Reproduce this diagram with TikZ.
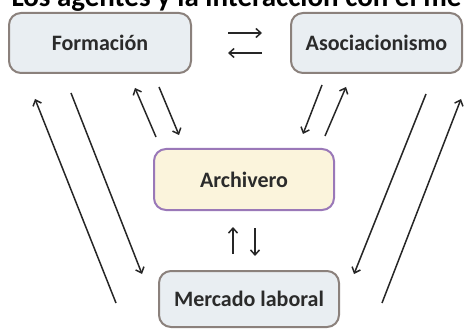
\documentclass[tikz,border=0pt]{standalone}
\usepackage{fontspec}
\setmainfont{Carlito}
\usepackage{tikz}
\usetikzlibrary{calc,positioning,arrows.meta}
\definecolor{boxfill}{HTML}{E9EEF2}
\definecolor{boxline}{HTML}{8B817C}
\definecolor{archfill}{HTML}{FBF4DC}
\definecolor{archline}{HTML}{9A78B8}
\definecolor{ink}{HTML}{2B2B2B}
\begin{document}
\begin{tikzpicture}[x=1pt, y=-1pt, >={Straight Barb[length=5pt,width=9pt]},
    every node/.append style={font=\bfseries\fontsize{22}{26}\selectfont, text=ink},
    agente/.style={rectangle, rounded corners=12pt, draw=boxline, fill=boxfill, line width=2pt, minimum height=60pt, inner sep=0pt},
    flecha/.style={->, line width=1.5pt, black!85}]
    \useasboundingbox (0,0) rectangle (464,329);
    \node (titulo) [anchor=base west, font=\bfseries\fontsize{29}{34}\selectfont, text=black] at (8,7) {Los agentes y la interacción con el me};
    \node (form)[agente, minimum width=182pt] at (100,43) {Formación};
    \node (asoc)[agente, minimum width=171pt] at (376.5,43) {Asociacionismo};
    \node (arch)[agente, draw=archline, fill=archfill, minimum width=180pt, minimum height=61pt] at (244,179.5) {Archivero};
    \node (merc)[agente, minimum width=180pt, minimum height=56pt] at (249,299) {Mercado laboral};
    \draw[flecha] ($(form.east)+(36,-10)$) -- ($(asoc.west)+(-28,-10)$);
    \draw[flecha] ($(asoc.west)+(-28,10)$) -- ($(form.east)+(36,10)$);
    \draw[flecha] ($(merc.west)+(-42,4)$) -- ($(form.south)+(-65,25)$);
    \draw[flecha] ($(form.south)+(-29,19)$) -- ($(merc.north west)+(-16,4)$);
    \draw[flecha] ($(form.south)+(59,13)$) -- ($(arch.north west)+(26,-13)$);
    \draw[flecha] ($(arch.north west)+(3,-11)$) -- ($(form.south)+(35,14)$);
    \draw[flecha] ($(asoc.south)+(-54.5,11)$) -- ($(arch.north east)+(-32,-14)$);
    \draw[flecha] ($(arch.north east)+(-10,-12)$) -- ($(asoc.south)+(-30.5,13)$);
    \draw[flecha] ($(merc.east)+(42,4)$) -- ($(asoc.south east)+(-2,25)$);
    \draw[flecha] ($(asoc.south)+(49.5,20)$) -- ($(merc.north east)+(14,4)$);
    \draw[flecha] ($(merc.north)+(-16,-16)$) -- ($(arch.south)+(-11,16)$);
    \draw[flecha] ($(arch.south)+(11,17)$) -- ($(merc.north)+(6,-14)$);
\end{tikzpicture}
\end{document}
